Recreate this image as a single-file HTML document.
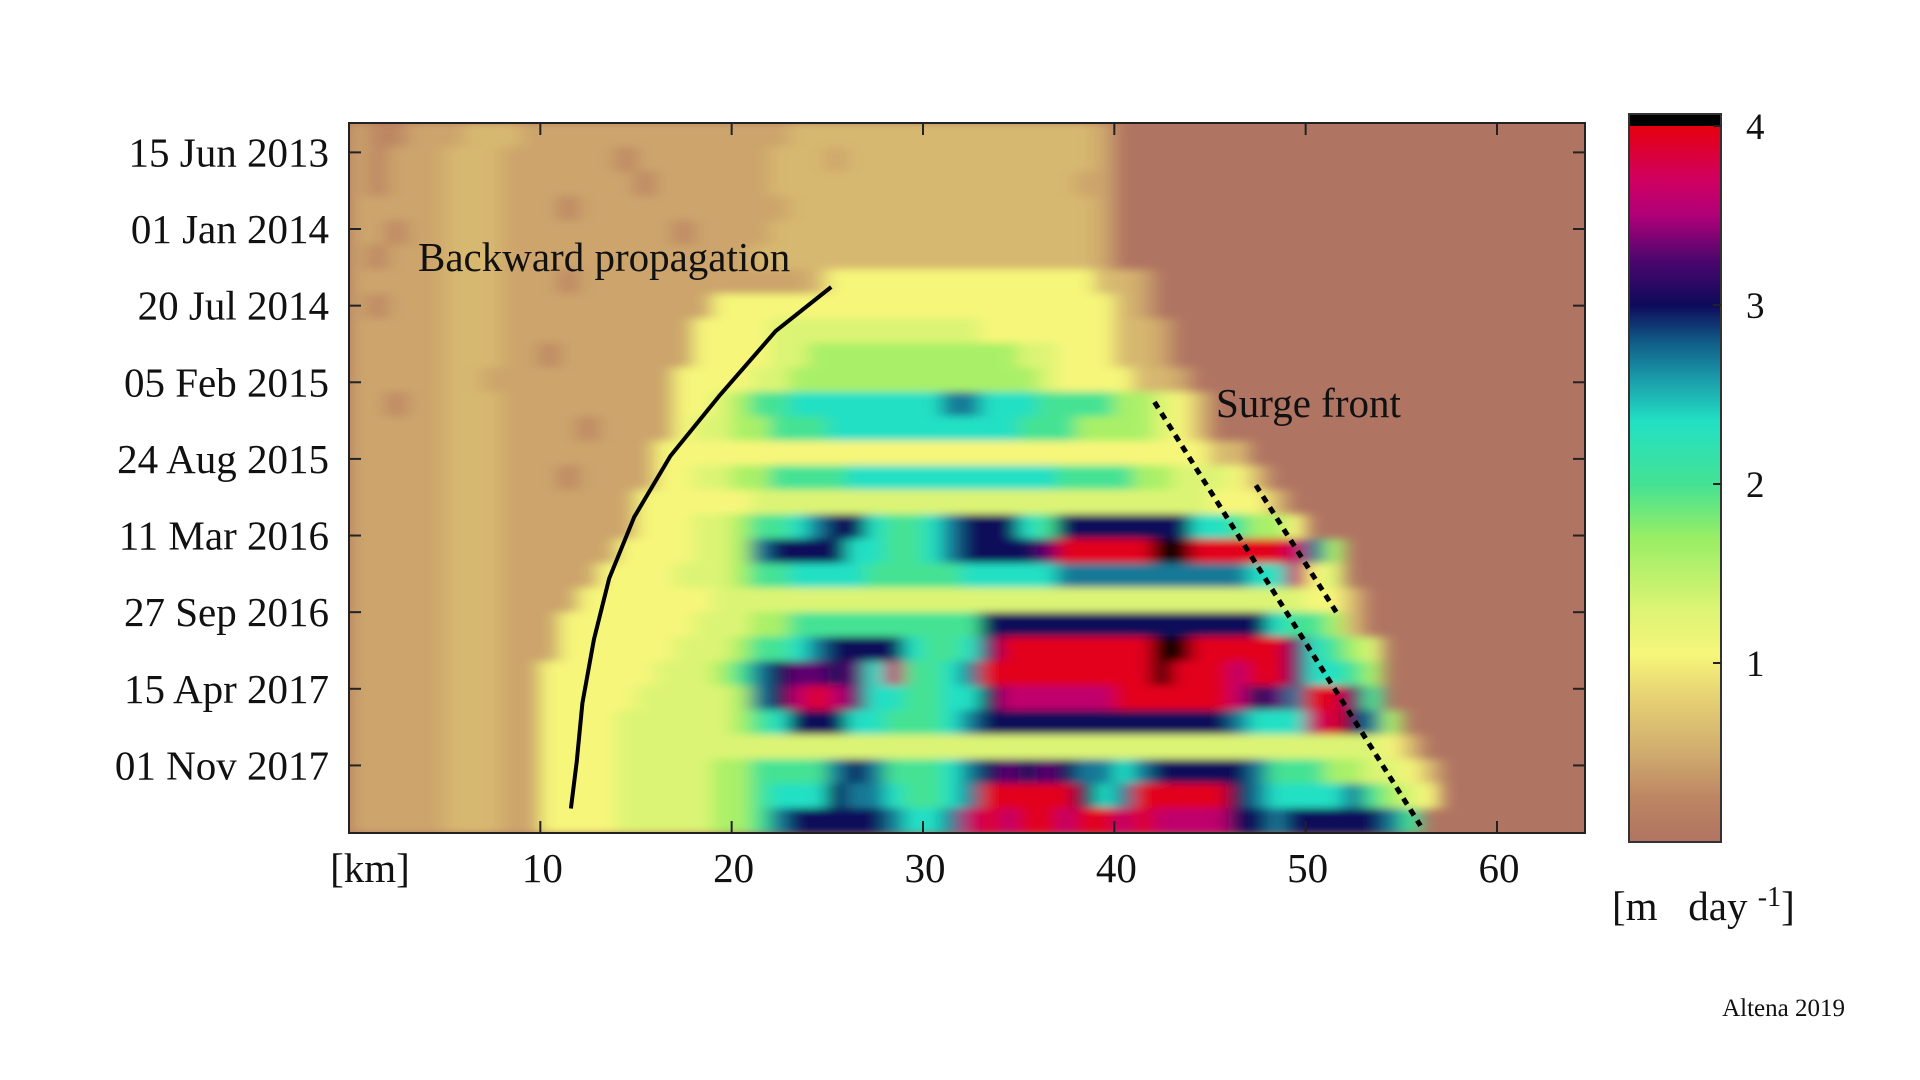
<!DOCTYPE html>
<html><head><meta charset="utf-8">
<style>
html,body{margin:0;padding:0;background:#fff;}
svg{display:block;}
text{font-family:"Liberation Serif",serif;fill:#111;}
</style></head>
<body>
<svg id="chart" width="1920" height="1080" viewBox="0 0 1920 1080" xmlns="http://www.w3.org/2000/svg">
<defs>
<clipPath id="plotclip"><rect x="349" y="123" width="1236" height="710"/></clipPath>
<filter id="blur" x="-5%" y="-5%" width="110%" height="110%"><feGaussianBlur stdDeviation="9 4"/></filter>
<linearGradient id="cbgrad" x1="0" y1="1" x2="0" y2="0"></linearGradient>
</defs>
<g id="heat" clip-path="url(#plotclip)"><rect x="349" y="123" width="1236" height="710" fill="#b07462"/><g id="cells" filter="url(#blur)"></g></g>
<g id="overlay"></g>
<rect x="349" y="123" width="1236" height="710" fill="none" stroke="#222" stroke-width="2"/>
<g id="axes"></g>
<g id="colorbar"></g>
<text x="418" y="271" font-size="41">Backward propagation</text>
<text x="1216" y="417" font-size="41">Surge front</text>
<text x="370" y="882" font-size="41" text-anchor="middle">[km]</text>
<text x="1612" y="920" font-size="41">[m&#160;&#160;&#160;day <tspan font-size="28" dy="-14">-1</tspan><tspan dy="14">]</tspan></text>
<text x="1845" y="1016" font-size="25" text-anchor="end">Altena 2019</text>
</svg>
<script>
const xTicks = [10, 20, 30, 40, 50, 60];
const xTickLabels = ["10", "20", "30", "40", "50", "60"];
const yTickLabels = ["15 Jun 2013","01 Jan 2014","20 Jul 2014","05 Feb 2015","24 Aug 2015","11 Mar 2016","27 Sep 2016","15 Apr 2017","01 Nov 2017"];
const yTickRows = [1.2, 4.33, 7.46, 10.59, 13.72, 16.85, 19.98, 23.11, 26.24];
const cbTicks = [1, 2, 3, 4];
// velocity classes per 1 km column (m/day)
const codeValues = {"0":0, ".":0.25, "1":0.45, "2":0.6, "y":1.05, "3":1.3, "4":1.6, "5":2.0, "6":2.35, "7":2.7, "8":3.0, "p":3.3, "9":3.6, "r":3.95, "k":4.3};
const gridRows = [
"1..1112221"+"1111111111"+"1112222222"+"2222222221",
"1.11122211"+"1111.11111"+"1122212222"+"2222222221",
"1.11122211"+"11111.1111"+"1122222222"+"2222222211",
"1111122211"+"1.11111111"+"1112222222"+"2222222221",
"11.1122211"+"1111111.11"+"1122222222"+"2222222221",
"1.11122211"+"1111111111"+"1222222222"+"2222222221",
"1111122211"+"1.11111111"+"11112yyyyy"+"yyyyyyyyy2"+"21",
"1.11122211"+"111111111y"+"yyyyyyyyyy"+"yyyyyyyyyy"+"21",
"1111122211"+"11111111yy"+"yy33333333"+"333yyyyyyy"+"221",
"1111122211"+".1111111yy"+"yy33444444"+"4444433yyy"+"221",
"1111122111"+"1111111yyy"+"y334444444"+"4444443yyy"+"y221",
"11.1122211"+"1111111yy3"+"4556666666"+"6776665555"+"443y2",
"1111122211"+"11.1111y33"+"4455566666"+"6666655544"+"443y2",
"1111122211"+"111111yyyy"+"yyyyyyyyyy"+"yyyyyyyyyy"+"yyyyy22",
"1111122211"+"1.1111yy33"+"4455556666"+"6666666555"+"544333y2",
"1111122211"+"11111yyyyy"+"y333333333"+"3333333333"+"33333yyy2",
"1111122211"+"11111yyy33"+"4556788655"+"6788865888"+"888866544y",
"1111122211"+"1111yyyy33"+"4788886655"+"678888prrr"+"rrkkrrrrr9"+"74",
"1111122211"+"111yyyy333"+"4556666555"+"5566666777"+"7777777669"+"y3",
"1111122211"+"11yyyyyyy3"+"3333333333"+"3333333333"+"3333333333"+"yy2",
"1111122211"+"1yyyyyyy33"+"3445555555"+"5558888888"+"8888888865"+"542",
"1111122211"+"1yyyyyy333"+"4556788886"+"556prrrrrr"+"rrkkrrrrrp"+"6543",
"1111122211"+"yyyyyy3334"+"578pp8p695"+"567rrrrrrr"+"rrkrrr9rrp"+"6654",
"1111122211"+"yyyyy33333"+"4789r9p665"+"5668999999"+"rrrrrr98p7"+"rrp5",
"1111122211"+"yyyy333333"+"4568886655"+"5678888888"+"8888887666"+"9r874",
"1111122211"+"yyyy333333"+"3333333333"+"3333333333"+"3333333333"+"3333y2",
"1111122211"+"yyyy333334"+"4555578755"+"5678p8p877"+"6788888755"+"54433y2",
"1111122211"+"yyyy333334"+"4566687765"+"567rrrrr86"+"7rrrrr8766"+"667543y",
"1111122211"+"yyyy333334"+"4578888876"+"679r9rr9rr"+"9r99998878"+"888875"
];
// annotation lines in data units (km, row)
const backKm = [11.6, 11.9, 12.2, 12.8, 13.6, 14.9, 16.8, 19.4, 22.3, 25.2];
const backRow = [28.0, 26.1, 23.7, 21.1, 18.6, 16.1, 13.6, 11.1, 8.5, 6.7];
const frontKm = [42.1, 56.0];
const frontRow = [11.4, 28.7];
const front2Km = [47.4, 51.7];
const front2Row = [14.8, 20.1];

const PX0 = 349, PX1 = 1585, PY0 = 123, PY1 = 833;
const KM_MAX = 64.6, NROWS = gridRows.length;
const xS = km => PX0 + (km / KM_MAX) * (PX1 - PX0);
const yS = r => PY0 + (r / NROWS) * (PY1 - PY0);
const CB_X = 1629, CB_W = 92, CB_Y0 = 842, CB_Y4 = 126;
const cbY = v => CB_Y0 - (v / 4) * (CB_Y0 - CB_Y4);

const stops = [[0,"#b07462"],[0.25,"#bd8663"],[0.5,"#d0ac6e"],[0.8,"#e6d074"],[1.05,"#f6f67a"],[1.3,"#dcf474"],[1.7,"#98ee64"],[2.0,"#44e294"],[2.35,"#22e0c4"],[2.6,"#1a98a8"],[2.8,"#105a86"],[3.0,"#0e0a5a"],[3.25,"#4c066e"],[3.5,"#b00078"],[3.7,"#d00060"],[4.0,"#e6000e"]];
function hex(h){return [1,3,5].map(i=>parseInt(h.substr(i,2),16));}
function color(v){
  if(v>4.1) return "#000";
  if(v<=0) return stops[0][1];
  for(let i=1;i<stops.length;i++){
    if(v<=stops[i][0]){
      const a=stops[i-1], b=stops[i], t=(v-a[0])/(b[0]-a[0]);
      const ca=hex(a[1]), cb=hex(b[1]);
      return "rgb("+ca.map((c,j)=>Math.round(c+(cb[j]-c)*t)).join(",")+")";
    }
  }
  return stops[stops.length-1][1];
}
const NS="http://www.w3.org/2000/svg";
function mk(tag,attrs,parent){const e=document.createElementNS(NS,tag);for(const k in attrs)e.setAttribute(k,attrs[k]);parent.appendChild(e);return e;}

const cells=document.getElementById("cells");
gridRows.forEach((row,ri)=>{
  const s=row.padEnd(66,"0");
  for(let c=0;c<66;c++){
    const v=codeValues[s[c]];
    if(v===undefined||v===0) continue;
    const r=mk("rect",{x:xS(c)-0.5,y:yS(ri)-0.5,width:xS(c+1)-xS(c)+1,height:yS(ri+1)-yS(ri)+1,fill:color(v)},cells);
    
    
  }
});

const ov=document.getElementById("overlay");
let d="";
backKm.forEach((k,i)=>{d+=(i?" L":"M")+xS(k).toFixed(1)+","+yS(backRow[i]).toFixed(1);});
const bp=mk("path",{d:d,fill:"none",stroke:"#000","stroke-width":4,"stroke-linejoin":"round"},ov);


const f1=mk("line",{x1:xS(frontKm[0]),y1:yS(frontRow[0]),x2:xS(frontKm[1]),y2:yS(frontRow[1]),stroke:"#000","stroke-width":5,"stroke-dasharray":"7 6"},ov);


const f2=mk("line",{x1:xS(front2Km[0]),y1:yS(front2Row[0]),x2:xS(front2Km[1]),y2:yS(front2Row[1]),stroke:"#000","stroke-width":5,"stroke-dasharray":"7 6"},ov);



const ax=document.getElementById("axes");
xTicks.forEach((k,i)=>{
  const x=xS(k);
  const t1=mk("line",{x1:x,y1:PY1,x2:x,y2:PY1-12,stroke:"#222","stroke-width":2},ax);
  
  
  const t2=mk("line",{x1:x,y1:PY0,x2:x,y2:PY0+12,stroke:"#222","stroke-width":2},ax);
  
  
  const lb=mk("text",{x:x+2,y:882,"font-size":41,"text-anchor":"middle"},ax);
  lb.textContent=xTickLabels[i];
  
  
});
yTickRows.forEach((r,i)=>{
  const y=yS(r);
  const t1=mk("line",{x1:PX0,y1:y,x2:PX0+12,y2:y,stroke:"#222","stroke-width":2},ax);
  
  
  const t2=mk("line",{x1:PX1,y1:y,x2:PX1-12,y2:y,stroke:"#222","stroke-width":2},ax);
  
  
  const lb=mk("text",{x:329,y:y+14,"font-size":41,"text-anchor":"end"},ax);
  lb.textContent=yTickLabels[i];
  
  
});

const grad=document.getElementById("cbgrad");
stops.forEach(s=>{mk("stop",{offset:(s[0]/4*100)+"%","stop-color":s[1]},grad);});
const cb=document.getElementById("colorbar");
const cbr=mk("rect",{x:CB_X,y:CB_Y4,width:CB_W,height:CB_Y0-CB_Y4,fill:"url(#cbgrad)"},cb);


const cbk=mk("rect",{x:CB_X,y:114,width:CB_W,height:CB_Y4-114,fill:"#000"},cb);


const cbf=mk("rect",{x:CB_X,y:114,width:CB_W,height:CB_Y0-114,fill:"none",stroke:"#333","stroke-width":2},cb);


cbTicks.forEach(v=>{
  const y=cbY(v);
  const t=mk("line",{x1:CB_X+CB_W,y1:y,x2:CB_X+CB_W-8,y2:y,stroke:"#222","stroke-width":2},cb);
  
  
  const lb=mk("text",{x:1746,y:y+13,"font-size":37},cb);
  lb.textContent=String(v);
  
  
});
</script>
</body></html>
